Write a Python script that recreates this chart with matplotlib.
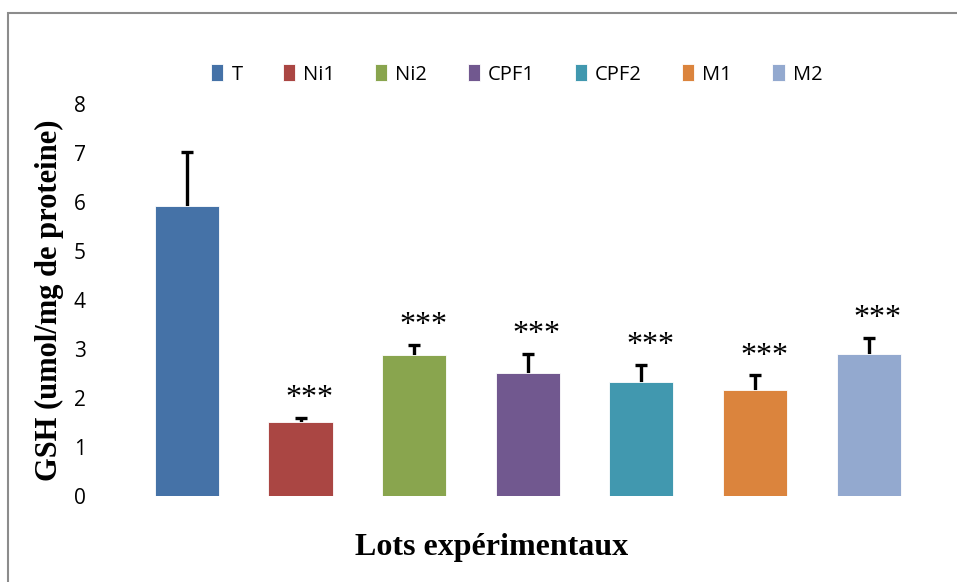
import matplotlib.pyplot as plt
from matplotlib.patches import Rectangle

# data
lots = ['T', 'Ni1', 'Ni2', 'CPF1', 'CPF2', 'M1', 'M2']
gsh = [5.92, 1.50, 2.87, 2.50, 2.33, 2.17, 2.89]
sem = [1.10, 0.10, 0.22, 0.40, 0.34, 0.29, 0.33]
signif = ['', '***', '***', '***', '***', '***', '***']
colors = ['#4572A7', '#AA4643', '#89A54E', '#71588F', '#4198AF', '#DB843D', '#93A9CF']

tick_font = ['Open Sans', 'DejaVu Sans']
serif_font = ['Liberation Serif', 'DejaVu Serif']

fig = plt.figure(figsize=(9.57, 5.82), dpi=100)
ax = fig.add_axes([0.136, 0.148, 0.831, 0.673])

x = list(range(len(lots)))
for i in x:
    ax.bar(i, gsh[i], width=0.565, color=colors[i], edgecolor='white',
           linewidth=0.6, label=lots[i], zorder=2)
    # upper error bar only: stem + cap
    ax.errorbar(i, gsh[i], yerr=[[0], [sem[i]]], fmt='none', ecolor='black',
                elinewidth=2.4, capsize=0, zorder=1)
    ax.plot(i, gsh[i] + sem[i], marker='_', ms=9, mew=2.4, color='black', zorder=3)
    if signif[i]:
        ax.text(i + 0.08, gsh[i] + sem[i] + 0.1, signif[i], ha='center',
                va='bottom', fontsize=23, family=serif_font)

ax.set_xlim(-0.5, len(lots) - 0.5)
ax.set_ylim(0, 8)
ax.set_yticks(range(0, 9))
ax.set_xticks([])
for s in ax.spines.values():
    s.set_visible(False)
ax.tick_params(axis='y', length=0, pad=32, labelsize=15)
for lab in ax.get_yticklabels():
    lab.set_family(tick_font)

ax.set_ylabel('GSH (umol/mg de proteine)', fontsize=22, fontweight='bold',
              family=serif_font)
ax.yaxis.set_label_coords(-0.083, 0.5)
ax.set_xlabel('Lots expérimentaux', fontsize=23, fontweight='bold',
              family=serif_font)
ax.xaxis.set_label_coords(0.455, -0.095)

leg = fig.legend(loc='center', bbox_to_anchor=(0.54, 0.872), ncol=7,
                 frameon=False, handlelength=0.6, handleheight=0.9,
                 handletextpad=0.4, columnspacing=2.0,
                 prop={'family': tick_font, 'size': 14.5})

# outer chart frame
fig.patches.append(Rectangle((8 / 957, -0.1), 1.2, 1.078, transform=fig.transFigure,
                             fill=False, edgecolor='#8c8c8c', linewidth=1.5))

fig.savefig('out.png', dpi=100)
